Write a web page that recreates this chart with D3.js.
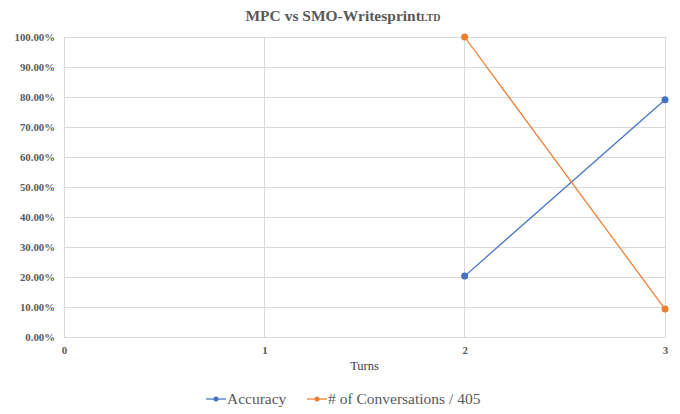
<!DOCTYPE html>
<html><head><meta charset="utf-8">
<script src="https://cdn.jsdelivr.net/npm/d3@7/dist/d3.min.js"></script>
<style>body{margin:0;background:#fff}svg{display:block}svg text{font-family:"Liberation Serif","Times New Roman","DejaVu Serif",serif}</style>
</head><body>
<svg id="c" width="680" height="414"></svg>
<script>
const turns = [2, 3];
const accuracy = [0.203, 0.791];
const conversations = [1.0, 0.093];
const seriesNames = ["Accuracy", "# of Conversations / 405"];
const seriesColors = ["#4472C4", "#ED7D31"];
const xTicks = [0, 1, 2, 3];
const yTicks = [0, 0.1, 0.2, 0.3, 0.4, 0.5, 0.6, 0.7, 0.8, 0.9, 1.0];

const svg = d3.select("#c");
const m = {l: 64, r: 15, t: 37, b: 77};
const W = 680, H = 414;
const x = d3.scaleLinear().domain([0, 3]).range([m.l, W - m.r]);
const y = d3.scaleLinear().domain([0, 1]).range([H - m.b, m.t]);

// gridlines
const g = svg.append("g");
g.selectAll(".hy").data(yTicks).join("line")
  .attr("x1", x(0)).attr("x2", x(3)).attr("y1", d => y(d)).attr("y2", d => y(d))
  .attr("stroke", "#d9d9d9").attr("stroke-width", 1).attr("shape-rendering", "crispEdges");
g.selectAll(".vx").data(xTicks).join("line")
  .attr("x1", d => x(d)).attr("x2", d => x(d)).attr("y1", y(0)).attr("y2", y(1))
  .attr("stroke", "#d9d9d9").attr("stroke-width", 1).attr("shape-rendering", "crispEdges");

// axes labels
const yAxis = d3.axisLeft(y).tickValues(yTicks).tickSize(0).tickPadding(9).tickFormat(d3.format(".2%"));
const ya = svg.append("g").attr("transform", `translate(${m.l},0)`).call(yAxis);
ya.select(".domain").remove();
ya.selectAll("text").attr("font-weight", "bold").attr("font-size", 10.8).attr("fill", "#595959");

const xAxis = d3.axisBottom(x).tickValues(xTicks).tickSize(0).tickPadding(9).tickFormat(d3.format("d"));
const xa = svg.append("g").attr("transform", `translate(0,${y(0)})`).call(xAxis);
xa.select(".domain").remove();
xa.selectAll("text").attr("font-weight", "bold").attr("font-size", 10.8).attr("fill", "#595959");
ya.attr("font-family", null); xa.attr("font-family", null);

svg.append("text").attr("x", (x(0) + x(3)) / 2).attr("y", 370).attr("text-anchor", "middle")
  .attr("font-size", 12.5).attr("fill", "#404040").text("Turns");

// title
const t = svg.append("text").attr("x", 343).attr("y", 21).attr("text-anchor", "middle")
  .attr("font-weight", "bold").attr("font-size", 15.5).attr("fill", "#595959");
t.append("tspan").text("MPC vs SMO-Writesprint");
t.append("tspan").attr("font-size", 10).text("LTD");

// series
const series = [accuracy, conversations];
const line = d3.line().x(d => x(d[0])).y(d => y(d[1]));
series.forEach((vals, i) => {
  const pts = turns.map((tv, j) => [tv, vals[j]]);
  svg.append("path").datum(pts).attr("d", line).attr("fill", "none")
    .attr("stroke", seriesColors[i]).attr("stroke-width", 1.25);
  svg.selectAll(null).data(pts).join("circle")
    .attr("cx", d => x(d[0])).attr("cy", d => y(d[1])).attr("r", 3.5)
    .attr("fill", seriesColors[i]);
});

// legend
const lg = svg.append("g").attr("transform", "translate(0,399)");
const offsets = [206, 307];
seriesNames.forEach((n, i) => {
  const ox = offsets[i];
  lg.append("line").attr("x1", ox).attr("x2", ox + 20).attr("y1", 0).attr("y2", 0)
    .attr("stroke", seriesColors[i]).attr("stroke-width", 1.25);
  lg.append("circle").attr("cx", ox + 10).attr("cy", 0).attr("r", 2.5).attr("fill", seriesColors[i]);
  lg.append("text").attr("x", ox + 21).attr("y", 5).attr("font-size", 15.5)
    .attr("fill", "#595959").text(n);
});
</script>
</body></html>
